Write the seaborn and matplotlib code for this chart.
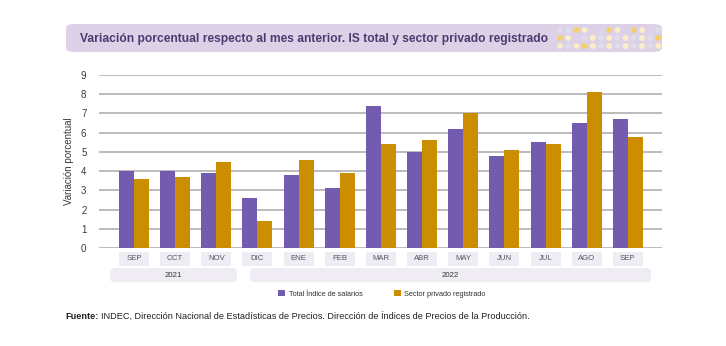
import matplotlib
matplotlib.use("Agg")
import matplotlib.pyplot as plt
import seaborn as sns
import pandas as pd
import numpy as np
from matplotlib.patches import FancyBboxPatch, Rectangle, Ellipse
from matplotlib.transforms import blended_transform_factory

meses = ["SEP", "OCT", "NOV", "DIC", "ENE", "FEB", "MAR", "ABR", "MAY", "JUN", "JUL", "AGO", "SEP"]
anios = ["2021", "2021", "2021", "2021", "2022", "2022", "2022", "2022", "2022", "2022", "2022", "2022", "2022"]
total_is = [4.0, 4.0, 3.9, 2.6, 3.8, 3.1, 7.4, 5.0, 6.2, 4.8, 5.5, 6.5, 6.7]
privado = [3.6, 3.7, 4.5, 1.4, 4.6, 3.9, 5.4, 5.6, 7.0, 5.1, 5.4, 8.1, 5.8]
series = ["Total Índice de salarios", "Sector privado registrado"]
titulo = "Variación porcentual respecto al mes anterior. IS total y sector privado registrado"
ylabel = "Variación porcentual"

sns.set_theme(style="white")
plt.rcParams["font.family"] = ["Liberation Sans", "DejaVu Sans"]

keys = [f"{m} {a}" for m, a in zip(meses, anios)]
df = pd.DataFrame({
    "periodo": keys * 2,
    "valor": total_is + privado,
    "serie": [series[0]] * len(keys) + [series[1]] * len(keys),
})

purple = "#735cb0"
gold = "#cc8e00"

fig = plt.figure(figsize=(7.26, 3.46), dpi=100)
ax = fig.add_axes([99 / 726, 1 - 248 / 346, (662 - 99) / 726, (248 - 75) / 346])

sns.barplot(data=df, x="periodo", y="valor", hue="serie", order=keys,
            palette=[purple, gold], width=0.73, gap=0, saturation=1,
            edgecolor="none", linewidth=0, ax=ax, legend=True)

ax.set_ylim(0, 9)
ax.set_xlim(-0.85, 12.83)
ax.set_yticks(range(0, 10))
ax.yaxis.grid(True, color="#a9a9a9", linewidth=1.1)
ax.set_axisbelow(True)
for s in ax.spines.values():
    s.set_visible(False)
ax.tick_params(axis="y", length=0, labelsize=7, labelcolor="#3a3a3a", pad=9)
ax.set_xticks([])
ax.set_xlabel("")
ax.set_ylabel(ylabel, fontsize=7, color="#3a3a3a", labelpad=5)

# category label boxes
tr = blended_transform_factory(ax.transData, ax.transAxes)
for i, m in enumerate(meses):
    ax.add_patch(Rectangle((i - 0.365, -0.104), 0.73, 0.081, transform=tr,
                           facecolor="#efecf4", edgecolor="none", clip_on=False))
    ax.text(i, -0.063, m, transform=tr, ha="center", va="center",
            fontsize=5.6, color="#555560")

# year boxes
year_spans = [("2021", -0.58, 2.50), ("2022", 2.82, 12.56)]
for label, x0, x1 in year_spans:
    ax.add_patch(FancyBboxPatch((x0, -0.197), x1 - x0, 0.081, transform=tr,
                                boxstyle="round,pad=0,rounding_size=0.12",
                                mutation_aspect=0.15,
                                facecolor="#efecf4", edgecolor="none", clip_on=False))
    ax.text((x0 + x1) / 2, -0.157, label, transform=tr, ha="center", va="center",
            fontsize=5.6, color="#333333")

# legend
h, l = ax.get_legend_handles_labels()
ax.get_legend().remove()
fig.legend(h, l, loc="center", bbox_to_anchor=(382 / 726, 1 - 294 / 346), ncol=2,
           frameon=False, fontsize=5.3, handlelength=0.95, handleheight=0.95,
           columnspacing=4.2, handletextpad=0.5, labelcolor="#333333")

# title banner
fig.patches.append(FancyBboxPatch((66 / 726, 1 - 52 / 346), (662 - 66) / 726, 28 / 346,
                                  boxstyle="round,pad=0,rounding_size=0.012",
                                  transform=fig.transFigure, facecolor="#ddd1e8",
                                  edgecolor="none", zorder=0))
fig.text(80 / 726, 1 - 39 / 346, titulo, fontsize=8.62, fontweight="bold",
         color="#4b3b70", ha="left", va="center")

# decorative dots
dot_cols = ["#e1dde8", "#fbeec6", "#f5cf6a"]
pattern = [
    [0, 0, 2, 1, -1, -1, 2, 1, -1, 2, 1, -1, 0],
    [2, 1, -1, 0, 1, 0, 1, 0, 1, 0, 1, 0, 2],
    [1, 0, 1, 2, 1, 0, 1, 0, 1, 0, 1, 0, 1],
]
for r, row in enumerate(pattern):
    for c, v in enumerate(row):
        if v < 0:
            continue
        x = 560 + c * 8.2
        y = 30 + r * 8
        fig.patches.append(Ellipse((x / 726, 1 - y / 346), 5.8 / 726, 5.8 / 346,
                                   transform=fig.transFigure, facecolor=dot_cols[v],
                                   edgecolor="none", zorder=1))

# source
ysrc = 1 - 319 / 346
t1 = fig.text(65 / 726, ysrc, "Fuente:", fontsize=6.6, fontweight="bold",
              color="#222222", ha="left", va="baseline")
fig.canvas.draw()
bb = t1.get_window_extent(renderer=fig.canvas.get_renderer())
fig.text((bb.x1 + 3) / 726, ysrc,
         "INDEC, Dirección Nacional de Estadísticas de Precios. Dirección de Índices de Precios de la Producción.",
         fontsize=6.6, color="#222222", ha="left", va="baseline")

fig.savefig("out.png", dpi=100)
